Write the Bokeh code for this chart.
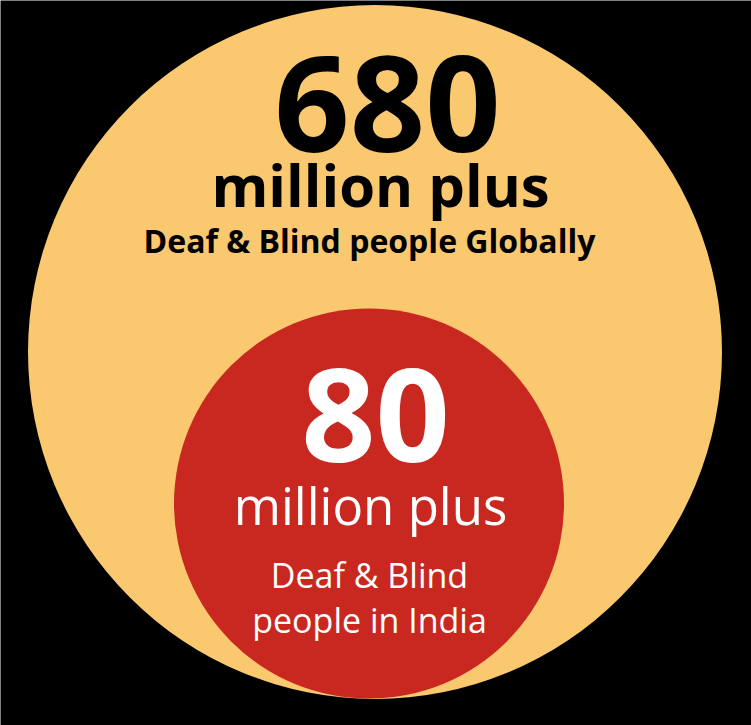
from bokeh.plotting import figure
from bokeh.models import Range1d
from bokeh.core.properties import value
from bokeh.embed import file_html
from bokeh.resources import INLINE

# ---- data ----
regions = ["Global", "India"]
counts = ["680", "80"]
unit_labels = ["million plus", "million plus"]
desc_lines_global = ["Deaf & Blind people Globally"]
desc_lines_india = ["Deaf & Blind", "people in India"]

# ---- layout (pixel-space, y downward) ----
W, H = 751, 725
outer = dict(cx=374.5, cy=351.5, r=347.0, color="#F9C86F")
inner = dict(cx=368.5, cy=503.0, r=195.0, color="#C82820")

FONT = value("Open Sans")
BASELINE_FIX = 0.36  # svg baseline compensation, fraction of font size

p = figure(width=W, height=H, x_range=Range1d(0, W), y_range=Range1d(H, 0),
           output_backend="svg", toolbar_location=None, min_border=0,
           background_fill_color="black", border_fill_color="black",
           outline_line_color=None)
p.axis.visible = False
p.grid.visible = False

p.circle(x=[outer["cx"]], y=[outer["cy"]], radius=outer["r"],
         fill_color=outer["color"], line_color=None)
p.circle(x=[inner["cx"]], y=[inner["cy"]], radius=inner["r"],
         fill_color=inner["color"], line_color=None)


def label(x, y, txt, size, style, color):
    p.text(x=[x], y=[y - BASELINE_FIX * size], text=[txt], text_font=FONT,
           text_font_size=value(f"{size}px"), text_font_style=style,
           text_align="center", text_baseline="alphabetic", text_color=color)


# Global circle texts
label(387, 152, counts[0], 132, "bold", "black")
label(380, 205, unit_labels[0], 58, "bold", "black")
for i, line in enumerate(desc_lines_global):
    label(369, 252 + i * 45, line, 32, "bold", "black")

# India circle texts
label(375, 462, counts[1], 130, "bold", "white")
label(370, 523, unit_labels[1], 51, "normal", "white")
for i, line in enumerate(desc_lines_india):
    label(369, 587 + i * 45, line, 34, "normal", "white")

open("out.html", "w").write(file_html(p, INLINE))
